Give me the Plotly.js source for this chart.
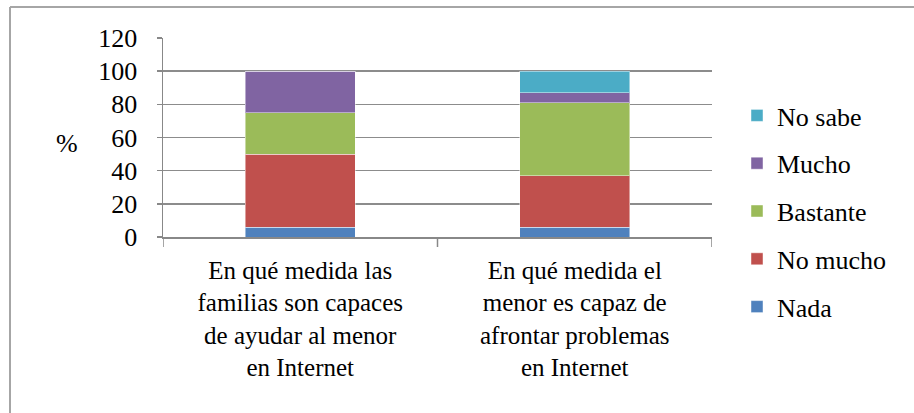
<!DOCTYPE html>
<html>
<head>
<meta charset="utf-8">
<script src="https://cdn.plot.ly/plotly-3.0.1.min.js"></script>
<style>
  html, body { margin: 0; padding: 0; background: #fff; }
  #chart { width: 914px; height: 413px; position: relative; }
  #chart svg text { font-family: 'Liberation Serif', serif !important; }
</style>
</head>
<body>
<div id="chart"></div>
<div style="position:absolute;left:860px;top:395px;font-family:'Liberation Serif';font-size:12px;color:#ffffff;z-index:5;">.</div>
<script>
const categories = [
  "En qué medida las<br>familias son capaces<br>de ayudar al menor<br>en Internet",
  "En qué medida el<br>menor es capaz de<br>afrontar problemas<br>en Internet"
];
const seriesNames = ["Nada", "No mucho", "Bastante", "Mucho", "No sabe"];
const nada     = [6, 6];
const noMucho  = [44, 31];
const bastante = [25, 44];
const mucho    = [25, 6];
const noSabe   = [0, 13];
const seriesColors = ["#4F81BD", "#C0504D", "#9BBB59", "#8064A2", "#4BACC6"];
const yTicks = [0, 20, 40, 60, 80, 100, 120];

const seriesValues = [nada, noMucho, bastante, mucho, noSabe];
const FONT = "Liberation Serif";

const traces = seriesNames.map((name, i) => ({
  type: "bar",
  name: name,
  x: [0, 1],
  y: seriesValues[i],
  legendgroup: name,
  legendrank: 1000 - i,
  marker: { color: seriesColors[i], line: { color: "rgba(255,255,255,0.45)", width: 1 } },
  hoverinfo: "skip"
}));

const L = 163, R = 712, T = 38, B = 237;
const W = 914, H = 413;
const pw = R - L, ph = B - T;
const px = v => (v - L) / pw;
const py = v => (B - v) / ph;

const layout = {
  width: W, height: H,
  margin: { l: L, r: W - R, t: T, b: H - B, pad: 0 },
  paper_bgcolor: "#ffffff",
  plot_bgcolor: "#ffffff",
  barmode: "stack",
  bargap: 0.6,
  showlegend: true,
  legend: {
    x: px(737), y: py(92), xanchor: "left", yanchor: "top",
    traceorder: "grouped",
    tracegroupgap: 11,
    maxheight: 400,
    font: { family: FONT, size: 26, color: "#000" },
    bgcolor: "rgba(0,0,0,0)",
    itemclick: false, itemdoubleclick: false
  },
  xaxis: {
    type: "linear",
    range: [-0.5, 1.5],
    tickmode: "array",
    tickvals: [0, 1],
    ticktext: categories,
    ticks: "",
    ticklabelstandoff: 10,
    showgrid: false,
    showline: true, linecolor: "#888888", linewidth: 1.5,
    zeroline: false,
    tickfont: { family: FONT, size: 25, color: "#000" },
    fixedrange: true
  },
  yaxis: {
    range: [0, 120],
    tickmode: "array",
    tickvals: yTicks,
    ticktext: yTicks.map(String),
    ticks: "outside", ticklen: 5, tickwidth: 1.5, tickcolor: "#888888",
    ticklabelstandoff: 14,
    showgrid: true, gridcolor: "#8c8c8c", gridwidth: 1.5,
    showline: true, linecolor: "#888888", linewidth: 1.5,
    zeroline: false,
    tickfont: { family: FONT, size: 26, color: "#000" },
    fixedrange: true
  },
  shapes: [
    // chart frame (left and top edges)
    { type: "line", xref: "paper", yref: "paper", x0: px(10), x1: px(10), y0: py(7), y1: py(430), line: { color: "#a6a6a6", width: 2 } },
    { type: "line", xref: "paper", yref: "paper", x0: px(10), x1: px(930), y0: py(7), y1: py(7), line: { color: "#a6a6a6", width: 2 } },
    // category boundary ticks on x axis
    { type: "line", xref: "x", yref: "paper", x0: -0.5, x1: -0.5, y0: 0, y1: py(247), line: { color: "#888888", width: 1.5 } },
    { type: "line", xref: "x", yref: "paper", x0: 0.5, x1: 0.5, y0: 0, y1: py(247), line: { color: "#888888", width: 1.5 } },
    { type: "line", xref: "x", yref: "paper", x0: 1.5, x1: 1.5, y0: 0, y1: py(247), line: { color: "#888888", width: 1.5 } }
  ],
  annotations: [
    { text: "%", xref: "paper", yref: "paper", x: px(67), y: py(143), xanchor: "center", yanchor: "middle", showarrow: false, font: { family: FONT, size: 26, color: "#000" } }
  ]
};

const config = { displayModeBar: false, staticPlot: true };
const gd = document.getElementById("chart");

function forceSerif() {
  gd.querySelectorAll("text").forEach(t => {
    t.style.setProperty("font-family", "'Liberation Serif', serif", "important");
  });
}

Plotly.newPlot(gd, traces, layout, config).then(forceSerif);
gd.on && gd.on("plotly_afterplot", forceSerif);
if (document.fonts && document.fonts.load) {
  document.fonts.load('26px "Liberation Serif"').then(() => {
    Plotly.react(gd, traces, layout, config).then(forceSerif);
  }).catch(() => {});
}
</script>
</body>
</html>
